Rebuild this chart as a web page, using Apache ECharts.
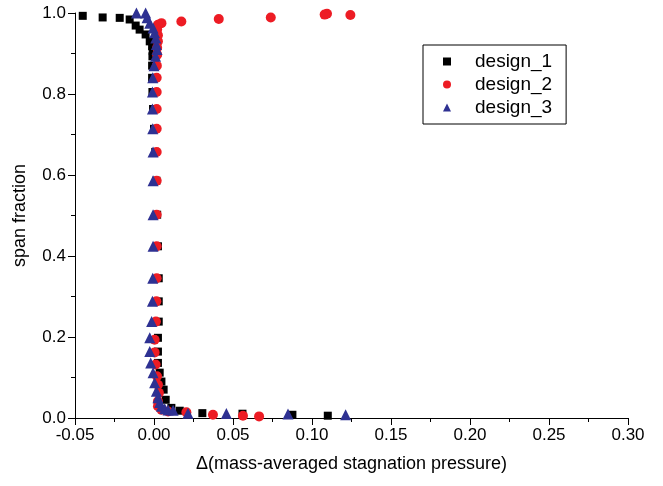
<!DOCTYPE html>
<html>
<head>
<meta charset="utf-8">
<script src="https://cdn.jsdelivr.net/npm/echarts@6/dist/echarts.min.js"></script>
<style>
  html, body { margin: 0; padding: 0; background: #fff; }
  #chart { width: 663px; height: 486px; }
</style>
</head>
<body>
<div id="chart"></div>
<script>
// design_1 (squares): [delta, span]
const design1 = [
  [-0.0451, 0.993], [-0.0325, 0.989], [-0.0217, 0.988], [-0.0154, 0.984],
  [-0.0116, 0.969], [-0.0091, 0.959], [-0.0053, 0.947], [-0.0027, 0.930],
  [-0.0012, 0.918], [-0.0008, 0.906], [-0.0010, 0.893], [-0.0012, 0.870],
  [-0.0012, 0.840], [-0.0010, 0.805], [-0.0006, 0.763], [0.0000, 0.714],
  [0.0008, 0.657], [0.0015, 0.586], [0.0020, 0.502], [0.0025, 0.424],
  [0.0030, 0.345], [0.0030, 0.288], [0.0030, 0.238], [0.0025, 0.198],
  [0.0025, 0.164], [0.0025, 0.136], [0.0036, 0.112], [0.0047, 0.090],
  [0.0061, 0.070], [0.0074, 0.045], [0.0110, 0.025], [0.0163, 0.018],
  [0.0306, 0.012], [0.0560, 0.0106], [0.0876, 0.008], [0.1100, 0.0057]
]
// design_2 (circles)
const design2 = [
  [0.1243, 0.995], [0.1095, 0.998], [0.1080, 0.996], [0.0739, 0.989],
  [0.0410, 0.985], [0.0173, 0.979], [0.0047, 0.975], [0.0025, 0.971],
  [0.0020, 0.959], [0.0025, 0.945], [0.0025, 0.930], [0.0020, 0.914],
  [0.0020, 0.897], [0.0018, 0.870], [0.0017, 0.840], [0.0017, 0.805],
  [0.0017, 0.763], [0.0017, 0.714], [0.0017, 0.657], [0.0017, 0.586],
  [0.0017, 0.502], [0.0017, 0.424], [0.0017, 0.345], [0.0015, 0.288],
  [0.0012, 0.238], [0.0004, 0.193], [0.0004, 0.162], [0.0010, 0.132],
  [0.0019, 0.103], [0.0025, 0.082], [0.0031, 0.062], [0.0025, 0.041],
  [0.0025, 0.029], [0.0047, 0.0205], [0.0089, 0.016], [0.0205, 0.014],
  [0.0373, 0.008], [0.0563, 0.0057], [0.0665, 0.004]
]
// design_3 (triangles)
const design3 = [
  [-0.0111, 1.000], [-0.0053, 1.000], [-0.0044, 0.988], [-0.0027, 0.975],
  [-0.0006, 0.963], [0.0004, 0.951], [0.0011, 0.938], [0.0015, 0.922],
  [0.0019, 0.910], [0.0010, 0.893], [0.0000, 0.870], [-0.0008, 0.840],
  [-0.0010, 0.805], [-0.0010, 0.763], [-0.0008, 0.714], [-0.0006, 0.657],
  [-0.0006, 0.586], [-0.0006, 0.502], [-0.0006, 0.424], [-0.0008, 0.345],
  [-0.0010, 0.288], [-0.0015, 0.238], [-0.0027, 0.198], [-0.0027, 0.164],
  [-0.0021, 0.136], [-0.0006, 0.112], [0.0004, 0.087], [0.0015, 0.066],
  [0.0025, 0.050], [0.0036, 0.038], [0.0047, 0.029], [0.0068, 0.023],
  [0.0089, 0.020], [0.0121, 0.019], [0.0215, 0.012], [0.0458, 0.011],
  [0.0848, 0.0099], [0.1213, 0.008]
]
const seriesNames = ['design_1', 'design_2', 'design_3']

const font = 'Liberation Sans, Arial, sans-serif'
const chart = echarts.init(document.getElementById('chart'))

chart.setOption({
  backgroundColor: '#fff',
  animation: false,
  grid: {
    left: 75,
    right: 35,
    top: 13,
    bottom: 68
  },
  legend: {
    orient: 'vertical',
    left: 423,
    top: 45,
    padding: [7, 14, 7, 20],
    borderColor: '#000',
    borderWidth: 1,
    borderRadius: 0,
    itemWidth: 8,
    itemHeight: 8,
    itemGap: 4,
    textStyle: {
      fontFamily: font,
      fontSize: 19,
      color: '#000',
      padding: [0, 0, 0, 19]
    },
    data: seriesNames
  },
  xAxis: {
    type: 'value',
    min: -0.05,
    max: 0.30,
    interval: 0.05,
    name: 'Δ(mass-averaged stagnation pressure)',
    nameLocation: 'middle',
    nameGap: 37,
    nameTextStyle: { fontFamily: font, fontSize: 18, color: '#000' },
    axisLine: { onZero: false, lineStyle: { color: '#000', width: 1 } },
    axisTick: { length: 7, lineStyle: { color: '#000' } },
    minorTick: { show: true, splitNumber: 2, length: 4, lineStyle: { color: '#000' } },
    splitLine: { show: false },
    axisLabel: {
      fontFamily: font,
      fontSize: 17,
      color: '#000',
      margin: 9,
      formatter: v => v.toFixed(2)
    }
  },
  yAxis: {
    type: 'value',
    min: 0,
    max: 1,
    interval: 0.2,
    name: 'span fraction',
    nameLocation: 'middle',
    nameGap: 46,
    nameTextStyle: { fontFamily: font, fontSize: 18, color: '#000' },
    axisLine: { show: true, onZero: false, lineStyle: { color: '#000', width: 1 } },
    axisTick: { show: true, length: 7, lineStyle: { color: '#000' } },
    minorTick: { show: true, splitNumber: 2, length: 4, lineStyle: { color: '#000' } },
    splitLine: { show: false },
    axisLabel: {
      fontFamily: font,
      fontSize: 17,
      color: '#000',
      margin: 9,
      formatter: v => v.toFixed(1)
    }
  },
  series: [{
    name: 'design_1',
    type: 'scatter',
    symbol: 'rect',
    symbolSize: 8,
    itemStyle: { color: '#000000', opacity: 1 },
    data: design1
  }, {
    name: 'design_2',
    type: 'scatter',
    symbol: 'circle',
    symbolSize: 10,
    itemStyle: { color: '#ED1C24', opacity: 1 },
    data: design2
  }, {
    name: 'design_3',
    type: 'scatter',
    symbol: 'triangle',
    symbolSize: 11,
    itemStyle: { color: '#2E3192', opacity: 1 },
    data: design3
  }]
})
</script>
</body>
</html>
